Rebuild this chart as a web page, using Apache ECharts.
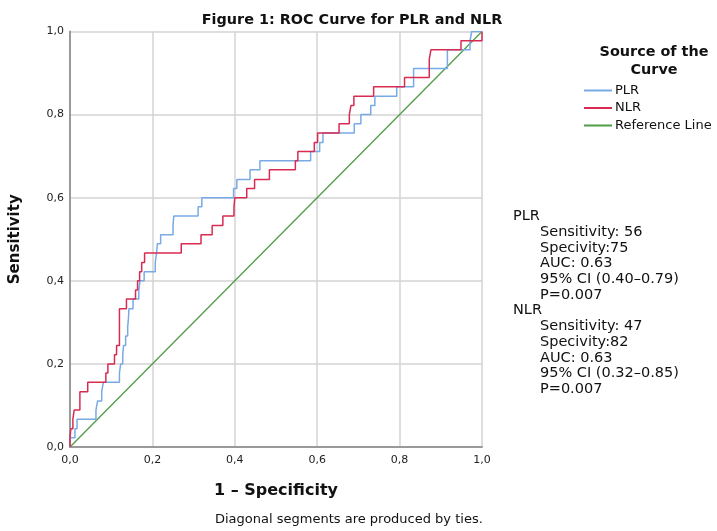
<!DOCTYPE html>
<html>
<head>
<meta charset="utf-8">
<script src="https://cdn.jsdelivr.net/npm/echarts@6/dist/echarts.min.js"></script>
<style>
html,body{margin:0;padding:0;background:#fff;}
#chart{width:717px;height:531px;}
</style>
</head>
<body>
<div id="chart"></div>
<script>
const chartTitle = 'Figure 1: ROC Curve for PLR and NLR';
const xAxisTitle = '1 – Specificity';
const yAxisTitle = 'Sensitivity';
const footnote = 'Diagonal segments are produced by ties.';
const legendTitle = 'Source of the\nCurve';
const seriesNames = ['PLR', 'NLR', 'Reference Line'];
const tickValues = [0, 0.2, 0.4, 0.6, 0.8, 1.0];
const tickLabels = ['0,0', '0,2', '0,4', '0,6', '0,8', '1,0'];

const plrPoints = [
  [0,0],[0,0.022],[0.012,0.022],[0.012,0.044],[0.017,0.044],[0.017,0.067],
  [0.063,0.067],[0.063,0.089],[0.067,0.089],[0.067,0.111],[0.077,0.111],[0.077,0.133],
  [0.081,0.133],[0.081,0.156],[0.12,0.156],[0.12,0.178],[0.123,0.178],[0.123,0.2],
  [0.128,0.2],[0.128,0.222],[0.13,0.222],[0.13,0.244],[0.135,0.244],[0.135,0.267],
  [0.14,0.267],[0.14,0.289],[0.142,0.289],[0.142,0.311],[0.143,0.311],[0.143,0.333],
  [0.153,0.333],[0.153,0.356],[0.167,0.356],[0.167,0.378],[0.17,0.378],[0.17,0.4],
  [0.18,0.4],[0.18,0.422],[0.207,0.422],[0.207,0.444],[0.21,0.444],[0.21,0.467],
  [0.212,0.467],[0.212,0.489],[0.22,0.489],[0.22,0.511],[0.25,0.511],[0.25,0.533],
  [0.252,0.533],[0.252,0.556],[0.311,0.556],[0.311,0.578],[0.32,0.578],[0.32,0.6],
  [0.397,0.6],[0.397,0.622],[0.405,0.622],[0.405,0.644],[0.437,0.644],[0.437,0.667],
  [0.461,0.667],[0.461,0.689],[0.584,0.689],[0.584,0.711],[0.606,0.711],[0.606,0.733],
  [0.614,0.733],[0.614,0.756],[0.69,0.756],[0.69,0.778],[0.706,0.778],[0.706,0.8],
  [0.73,0.8],[0.73,0.822],[0.74,0.822],[0.74,0.844],[0.793,0.844],[0.793,0.867],
  [0.834,0.867],[0.834,0.911],[0.916,0.911],[0.916,0.956],[0.971,0.956],[0.971,0.978],
  [0.975,0.978],[0.975,1],[1,1]
];

const nlrPoints = [
  [0,0],[0,0.022],[0.002,0.022],[0.002,0.044],[0.007,0.044],[0.007,0.067],
  [0.01,0.067],[0.01,0.089],[0.024,0.089],[0.024,0.133],[0.043,0.133],[0.043,0.156],
  [0.087,0.156],[0.087,0.178],[0.092,0.178],[0.092,0.2],[0.108,0.2],[0.108,0.222],
  [0.113,0.222],[0.113,0.244],[0.12,0.244],[0.12,0.333],[0.137,0.333],[0.137,0.356],
  [0.159,0.356],[0.159,0.378],[0.164,0.378],[0.164,0.4],[0.169,0.4],[0.169,0.422],
  [0.174,0.422],[0.174,0.444],[0.181,0.444],[0.181,0.467],[0.27,0.467],[0.27,0.489],
  [0.318,0.489],[0.318,0.511],[0.345,0.511],[0.345,0.533],[0.371,0.533],[0.371,0.556],
  [0.398,0.556],[0.398,0.578],[0.4,0.578],[0.4,0.6],[0.429,0.6],[0.429,0.622],
  [0.448,0.622],[0.448,0.644],[0.484,0.644],[0.484,0.667],[0.547,0.667],[0.547,0.689],
  [0.553,0.689],[0.553,0.711],[0.593,0.711],[0.593,0.733],[0.601,0.733],[0.601,0.756],
  [0.653,0.756],[0.653,0.778],[0.678,0.778],[0.678,0.8],[0.682,0.8],[0.682,0.822],
  [0.689,0.822],[0.689,0.844],[0.737,0.844],[0.737,0.867],[0.812,0.867],[0.812,0.889],
  [0.872,0.889],[0.872,0.933],[0.876,0.933],[0.876,0.956],[0.949,0.956],[0.949,0.978],
  [1,0.978],[1,1]
];

const referencePoints = [[0,0],[1,1]];

const statsGroups = [
  { name: 'PLR', lines: ['Sensitivity: 56', 'Specivity:75', 'AUC: 0.63', '95% CI (0.40–0.79)', 'P=0.007'] },
  { name: 'NLR', lines: ['Sensitivity: 47', 'Specivity:82', 'AUC: 0.63', '95% CI (0.32–0.85)', 'P=0.007'] }
];

const colors = ['#78aae6', '#d92b52', '#4f9d46'];
const FONT = 'DejaVu Sans';

function fmt(v) {
  const i = tickValues.findIndex(t => Math.abs(t - v) < 1e-9);
  return i >= 0 ? tickLabels[i] : '';
}

const graphics = [];
let gy = 218;
const lineH = 15.7;
statsGroups.forEach(g => {
  graphics.push({ type: 'text', left: 513, top: gy - 9, style: { text: g.name, font: '14.5px "' + FONT + '"', fill: '#111' } });
  gy += lineH;
  g.lines.forEach(l => {
    graphics.push({ type: 'text', left: 540, top: gy - 9, style: { text: l, font: '14.5px "' + FONT + '"', fill: '#111' } });
    gy += lineH;
  });
});
graphics.push({ type: 'text', left: 215, top: 513, style: { text: footnote, font: '13px "' + FONT + '"', fill: '#111' } });

const chart = echarts.init(document.getElementById('chart'), null, { renderer: 'canvas' });
chart.setOption({
  animation: false,
  backgroundColor: '#fff',
  textStyle: { fontFamily: FONT },
  title: [
    { text: chartTitle, left: 347, top: 8, textAlign: 'center',
      textStyle: { fontSize: 14.4, fontWeight: 'bold', color: '#111', fontFamily: FONT } },
    { text: legendTitle, left: 649, top: 39, textAlign: 'center',
      textStyle: { fontSize: 14.4, fontWeight: 'bold', color: '#111', fontFamily: FONT, lineHeight: 17.5 } }
  ],
  legend: {
    orient: 'vertical', left: 584, top: 84, itemGap: 4.5, padding: 0,
    itemWidth: 28, itemHeight: 2, icon: 'rect',
    data: seriesNames,
    textStyle: { fontSize: 13, color: '#111', fontFamily: FONT, padding: [0, 0, 0, -2] }
  },
  grid: { left: 67, top: 31.5, right: 235, bottom: 84, containLabel: false },
  xAxis: {
    type: 'value', min: 0, max: 1, interval: 0.2,
    name: xAxisTitle, nameLocation: 'middle', nameGap: 36,
    nameTextStyle: { fontSize: 16, fontWeight: 'bold', color: '#111', fontFamily: FONT },
    axisLine: { show: true, lineStyle: { color: '#9a9a9a', width: 2 } },
    axisTick: { show: false },
    axisLabel: { formatter: fmt, fontSize: 11, color: '#222', margin: 8, fontFamily: FONT },
    splitLine: { show: true, lineStyle: { color: '#d3d3d3', width: 1.5 } }
  },
  yAxis: {
    type: 'value', min: 0, max: 1, interval: 0.2,
    name: yAxisTitle, nameLocation: 'middle', nameGap: 47, nameRotate: 90,
    nameTextStyle: { fontSize: 15, fontWeight: 'bold', color: '#111', fontFamily: FONT },
    axisLine: { show: true, lineStyle: { color: '#9a9a9a', width: 2 } },
    axisTick: { show: false },
    axisLabel: { formatter: fmt, fontSize: 11, color: '#222', margin: 6, fontFamily: FONT },
    splitLine: { show: true, lineStyle: { color: '#d3d3d3', width: 1.5 } }
  },
  series: [
    { name: seriesNames[0], type: 'line', data: plrPoints, showSymbol: false, symbol: 'none',
      lineStyle: { color: colors[0], width: 1.5 }, itemStyle: { color: colors[0] }, z: 3 },
    { name: seriesNames[1], type: 'line', data: nlrPoints, showSymbol: false, symbol: 'none',
      lineStyle: { color: colors[1], width: 1.5 }, itemStyle: { color: colors[1] }, z: 4 },
    { name: seriesNames[2], type: 'line', data: referencePoints, showSymbol: false, symbol: 'none',
      lineStyle: { color: colors[2], width: 1.3 }, itemStyle: { color: colors[2] }, z: 2 }
  ],
  graphic: graphics
});
</script>
</body>
</html>
